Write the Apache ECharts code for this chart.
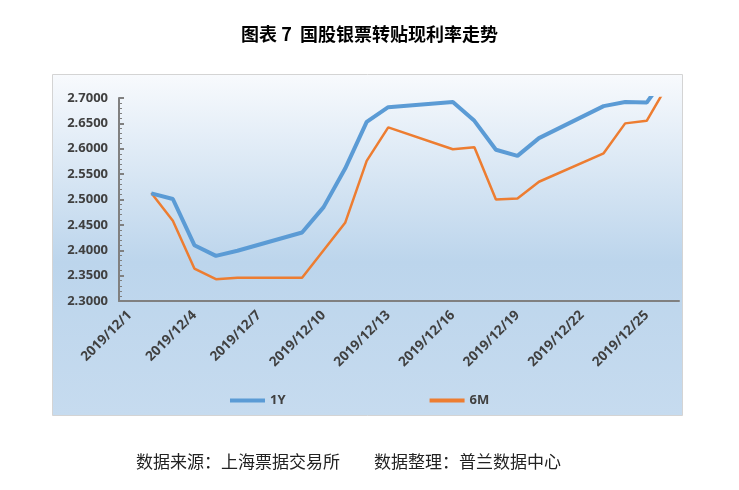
<!DOCTYPE html>
<html>
<head>
<meta charset="utf-8">
<title>国股银票转贴现利率走势</title>
<script src="https://cdn.jsdelivr.net/npm/echarts@6/dist/echarts.min.js"></script>
<style>
  html, body { margin: 0; padding: 0; background: #fff; }
  #chart { width: 739px; height: 490px; }
</style>
</head>
<body>
<div id="chart"></div>
<script>
// 日期（含周末，周末无数据）
var dates = [
  '2019/12/1', '2019/12/2', '2019/12/3', '2019/12/4', '2019/12/5', '2019/12/6', '2019/12/7',
  '2019/12/8', '2019/12/9', '2019/12/10', '2019/12/11', '2019/12/12', '2019/12/13', '2019/12/14',
  '2019/12/15', '2019/12/16', '2019/12/17', '2019/12/18', '2019/12/19', '2019/12/20', '2019/12/21',
  '2019/12/22', '2019/12/23', '2019/12/24', '2019/12/25', '2019/12/26'
];
// 1Y
var rate1Y = ['-', 2.512, 2.501, 2.410, 2.389, 2.399, '-', '-', 2.435, 2.485, 2.561, 2.653, 2.682,
  '-', '-', 2.692, 2.655, 2.598, 2.586, 2.621, '-', '-', 2.684, 2.692, 2.691, 2.750];
// 6M
var rate6M = ['-', 2.513, 2.458, 2.364, 2.343, 2.346, '-', '-', 2.346, 2.400, 2.454, 2.576, 2.642,
  '-', '-', 2.599, 2.603, 2.500, 2.502, 2.535, '-', '-', 2.591, 2.650, 2.655, 2.728];

var seriesNames = ['1Y', '6M'];
var yMin = 2.3, yMax = 2.7, yStep = 0.05;

var titleText = '图表 7  国股银票转贴现利率走势';
var sourceText = '数据来源：上海票据交易所';
var authorText = '数据整理：普兰数据中心';

var axisColor = '#808080';
var labelColor = '#404040';
var blue = '#5b9bd5';
var orange = '#ed7d31';

var chart = echarts.init(document.getElementById('chart'));
var option = {
  backgroundColor: '#fff',
  animation: false,
  title: {
    text: titleText,
    left: 'center',
    top: 20,
    textStyle: {
      fontFamily: 'Noto Sans CJK SC',
      fontSize: 18,
      fontWeight: 'bold',
      color: '#000'
    }
  },
  graphic: [
    {
      type: 'rect',
      z: -10,
      shape: { x: 52.5, y: 74.5, width: 630, height: 341 },
      style: {
        fill: new echarts.graphic.LinearGradient(0, 0, 0, 1, [
          { offset: 0, color: '#f8fafd' },
          { offset: 0.55, color: '#bcd5ec' },
          { offset: 1, color: '#c6dbef' }
        ]),
        stroke: '#d4d4d4',
        lineWidth: 1
      }
    },
    {
      type: 'text',
      left: 136,
      top: 453,
      style: {
        text: sourceText,
        fontFamily: 'Noto Sans CJK SC',
        fontSize: 17,
        fill: '#222'
      }
    },
    {
      type: 'text',
      left: 374,
      top: 453,
      style: {
        text: authorText,
        fontFamily: 'Noto Sans CJK SC',
        fontSize: 17,
        fill: '#222'
      }
    }
  ],
  legend: {
    data: [
      { name: seriesNames[0], icon: 'rect' },
      { name: seriesNames[1], icon: 'rect' }
    ],
    left: 225,
    top: 389,
    itemWidth: 35,
    itemHeight: 4,
    itemGap: 144,
    textStyle: {
      fontFamily: 'Noto Sans',
      fontSize: 13,
      fontWeight: 'bold',
      color: labelColor
    }
  },
  grid: {
    left: 119,
    top: 98,
    width: 560,
    height: 203,
    containLabel: false
  },
  xAxis: [
    {
      type: 'category',
      data: dates,
      boundaryGap: true,
      axisLine: { lineStyle: { color: axisColor, width: 2 } },
      axisTick: {
        inside: true,
        length: 3,
        interval: 0,
        lineStyle: { color: axisColor, width: 2 }
      },
      axisLabel: {
        interval: 2,
        rotate: 45,
        margin: 12,
        fontFamily: 'Noto Sans',
        fontSize: 13.5,
        fontWeight: 'bold',
        color: labelColor
      },
      splitLine: { show: false }
    },
    {
      type: 'category',
      data: dates,
      position: 'bottom',
      boundaryGap: true,
      axisLine: { show: false },
      axisTick: {
        inside: true,
        length: 6,
        interval: 2,
        lineStyle: { color: axisColor, width: 2 }
      },
      axisLabel: { show: false },
      splitLine: { show: false }
    }
  ],
  yAxis: {
    type: 'value',
    min: yMin,
    max: yMax,
    interval: yStep,
    axisLine: { show: true, lineStyle: { color: axisColor, width: 2 } },
    axisTick: { show: true, inside: true, length: 5, lineStyle: { color: axisColor, width: 2 } },
    minorTick: { show: true, splitNumber: 5, length: 3, lineStyle: { color: axisColor, width: 1 } },
    axisLabel: {
      margin: 11,
      formatter: function (v) { return v.toFixed(4); },
      fontFamily: 'Noto Sans',
      fontSize: 13,
      fontWeight: 'bold',
      color: labelColor
    },
    splitLine: { show: false }
  },
  series: [
    {
      name: seriesNames[0],
      type: 'line',
      data: rate1Y,
      connectNulls: true,
      showSymbol: false,
      symbol: 'none',
      clip: true,
      z: 3,
      itemStyle: { color: blue },
      lineStyle: { color: blue, width: 4 }
    },
    {
      name: seriesNames[1],
      type: 'line',
      data: rate6M,
      connectNulls: true,
      showSymbol: false,
      symbol: 'none',
      clip: true,
      z: 2,
      itemStyle: { color: orange },
      lineStyle: { color: orange, width: 2.5 }
    }
  ]
};
chart.setOption(option);
</script>
</body>
</html>
